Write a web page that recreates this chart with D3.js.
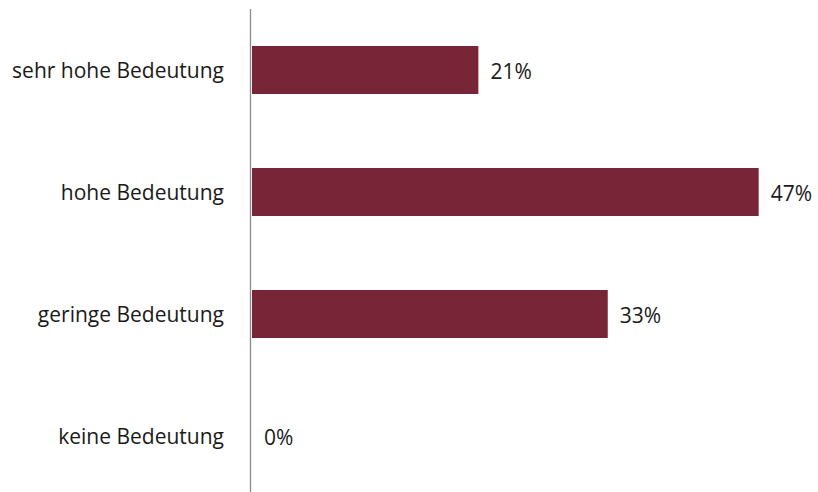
<!DOCTYPE html>
<html>
<head>
<meta charset="utf-8">
<script src="https://cdn.jsdelivr.net/npm/d3@7"></script>
<style>
  html, body { margin: 0; padding: 0; background: #fff; }
  svg text { font-family: "Open Sans", "Noto Sans", sans-serif; fill: #1a1a1a; }
</style>
</head>
<body>
<svg id="chart" width="818" height="492"></svg>
<script>
const categories = ["sehr hohe Bedeutung", "hohe Bedeutung", "geringe Bedeutung", "keine Bedeutung"];
const values = [21, 47, 33, 0];
const valueLabels = ["21%", "47%", "33%", "0%"];

const svg = d3.select("#chart");
const x = d3.scaleLinear().domain([0, 50]).range([252, 791]);
const y = d3.scaleBand().domain(categories).range([9, 497])
  .paddingInner(0.6066).paddingOuter(0.3033);

// bars
svg.selectAll("rect.bar")
  .data(categories)
  .join("rect")
  .attr("class", "bar")
  .attr("x", x(0))
  .attr("y", d => y(d))
  .attr("width", (d, i) => x(values[i]) - x(0))
  .attr("height", y.bandwidth())
  .attr("fill", "#772537");

// category axis line
svg.append("line")
  .attr("x1", 250.5).attr("x2", 250.5)
  .attr("y1", 9).attr("y2", 497)
  .attr("stroke", "#8c8c8c").attr("stroke-width", 1.3);

// category labels
svg.selectAll("text.cat")
  .data(categories)
  .join("text")
  .attr("class", "cat")
  .attr("x", 224)
  .attr("y", d => y(d) + y.bandwidth() / 2)
  .attr("dy", "0.36em")
  .attr("text-anchor", "end")
  .attr("font-size", 21)
  .text(d => d);

// value labels
svg.selectAll("text.val")
  .data(categories)
  .join("text")
  .attr("class", "val")
  .attr("x", (d, i) => x(values[i]) + 12)
  .attr("y", d => y(d) + y.bandwidth() / 2)
  .attr("dy", "0.42em")
  .attr("font-size", 21)
  .text((d, i) => valueLabels[i]);
</script>
</body>
</html>
